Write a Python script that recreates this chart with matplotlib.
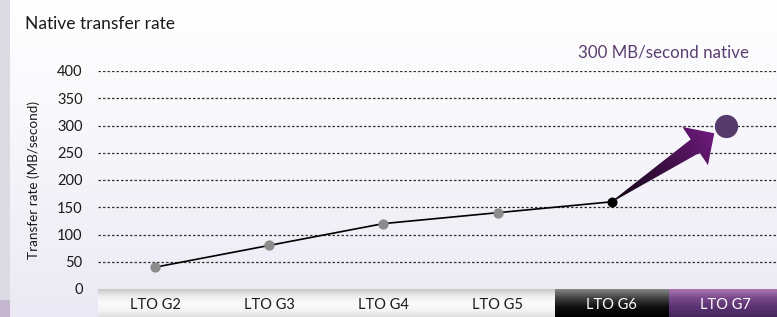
import numpy as np
import matplotlib.pyplot as plt
from matplotlib.patches import Polygon, Rectangle
from matplotlib.colors import LinearSegmentedColormap

plt.rcParams['font.family'] = ['Lato', 'DejaVu Sans']

# data
generations = ["LTO G2", "LTO G3", "LTO G4", "LTO G5", "LTO G6", "LTO G7"]
rates = [40, 80, 120, 140, 160, 300]
yticks = [0, 50, 100, 150, 200, 250, 300, 350, 400]

W, H = 777, 317
fig = plt.figure(figsize=(W / 100, H / 100), dpi=100)

def px(x0, y0, x1, y1):
    """pixel box (top-left origin) -> figure fraction rect"""
    return [x0 / W, 1 - y1 / H, (x1 - x0) / W, (y1 - y0) / H]

# background gradient
bg = fig.add_axes([0, 0, 1, 1], zorder=-5)
bg_cmap = LinearSegmentedColormap.from_list("bg", ["#ffffff", "#f6f5fa", "#ebe9f3"])
bg.imshow(np.linspace(0, 1, 256).reshape(-1, 1), aspect="auto", cmap=bg_cmap,
          extent=(0, W, H, 0))
bg.add_patch(Rectangle((0, 0), 10, H, color="#dcdae2", lw=0))
bg.add_patch(Rectangle((0, 300), 10, H - 300, color="#c4b6cf", lw=0))
bg.set_xlim(0, W)
bg.set_ylim(H, 0)
bg.axis("off")

# main axes
x = np.arange(len(generations))
ax = fig.add_axes(px(98, 71, 783, 289))
ax.set_facecolor("none")
ax.set_xlim(-0.5, len(generations) - 0.5)
ax.set_ylim(0, 400)
for s in ax.spines.values():
    s.set_visible(False)
ax.set_xticks([])
ax.set_yticks(yticks)
ax.set_yticklabels([str(t) for t in yticks], fontsize=10.5, color="#1a1a1a")
ax.tick_params(axis="y", length=0, pad=11)
for t in yticks[1:]:
    ax.axhline(t, color="#333333", lw=0.9, ls=(0, (2, 1.6)), zorder=1)
ax.set_ylabel("Transfer rate (MB/second)", fontsize=9.7, color="#1a1a1a", labelpad=12)

# line G2..G6
ax.plot(x[:5], rates[:5], color="black", lw=1.2, zorder=3)
ax.scatter(x[:4], rates[:4], s=55, color="#8c8c8c", zorder=4, lw=0, clip_on=False)
ax.scatter(x[4], rates[4], s=52, color="black", zorder=4, lw=0, clip_on=False)
ax.scatter(x[5], rates[5], s=280, color="#553a6b", zorder=6, lw=0, clip_on=False)

ax.text(x[5] + 0.2, 420, "300 MB/second native", fontsize=12.2, color="#5a3f70",
        ha="right", va="bottom")

# category band
band = fig.add_axes(px(98, 289, 783, 317))
band.set_xlim(-0.5, len(generations) - 0.5)
band.set_ylim(1, 0)
band.axis("off")
light = LinearSegmentedColormap.from_list("l", ["#c2c2c2", "#ebebeb", "#fbfbfb", "#f6f6f6", "#e0e0e0"])
dark = LinearSegmentedColormap.from_list("d", ["#8e8e8e", "#444444", "#0e0e0e", "#000000"])
purple = LinearSegmentedColormap.from_list("p", ["#b07ab4", "#7a4a8c", "#5a3270", "#46265c"])
grad = np.linspace(0, 1, 64).reshape(-1, 1)
for i, g in enumerate(generations):
    cm = light if i < 4 else (dark if i == 4 else purple)
    band.imshow(grad, aspect="auto", cmap=cm, extent=(i - 0.5, i + 0.5, 1, 0))
    band.text(i, 0.58, g, ha="center", va="center", fontsize=10.5,
              color="#1a1a1a" if i < 4 else "white")
band.set_xlim(-0.5, len(generations) - 0.5)
band.set_ylim(1, 0)

# title
fig.text(25 / W, 1 - 29 / H, "Native transfer rate", fontsize=12.5, color="#1a1a1a",
         ha="left", va="baseline")

# gradient arrow from G6 to G7 (pixel space overlay)
ov = fig.add_axes([0, 0, 1, 1], zorder=5)
ov.set_xlim(0, W)
ov.set_ylim(0, H)
ov.axis("off")
ov.patch.set_alpha(0)
fig.canvas.draw()
p0 = ax.transData.transform((x[4], rates[4]))
p1 = ax.transData.transform((x[5], rates[5]))
d = p1 - p0
u = d / np.hypot(*d)
n = np.array([-u[1], u[0]])
tip = p1 - u * 14
L = np.hypot(*(tip - p0))
head_len, head_w, shaft_w = 23, 46, 16
base = p0 + u * (L - head_len)
pts = [p0 + n * 0.4, base + n * shaft_w / 2, base + n * head_w / 2, tip,
       base - n * head_w / 2, base - n * shaft_w / 2, p0 - n * 0.4]
poly = Polygon(pts, closed=True, facecolor="none", edgecolor="none")
ov.add_patch(poly)
arr_cmap = LinearSegmentedColormap.from_list("a", ["#120612", "#3a0f42", "#6e1a7c"])
xs, ys = np.meshgrid(np.linspace(0, W, 400), np.linspace(0, H, 200))
proj = ((xs - p0[0]) * u[0] + (ys - p0[1]) * u[1]) / L
im = ov.imshow(np.clip(proj, 0, 1), cmap=arr_cmap, origin="lower", extent=(0, W, 0, H),
               aspect="auto")
im.set_clip_path(poly)
ov.set_xlim(0, W)
ov.set_ylim(0, H)

fig.savefig("out.png", dpi=100)
